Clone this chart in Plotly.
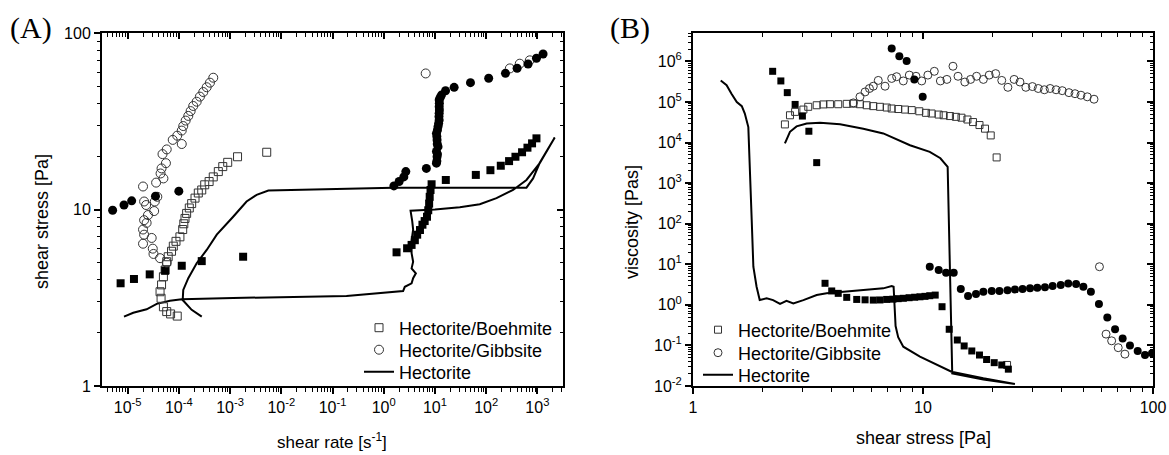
import plotly.graph_objects as go

W, H = 1169, 455

# ---------------- Panel A data: shear stress vs shear rate ----------------
a_boe_up_x = [9.3e-5, 6.9e-5, 5.8e-5, 5.0e-5, 4.5e-5, 4.3e-5, 4.6e-5, 5.0e-5, 5.4e-5, 5.8e-5, 6.2e-5,
              7.2e-5, 7.8e-5, 8.8e-5, 1.05e-4, 1.19e-4, 1.25e-4, 1.32e-4, 1.42e-4, 1.6e-4, 1.78e-4,
              2.07e-4, 2.4e-4, 2.8e-4, 3.2e-4, 3.9e-4, 4.7e-4, 5.9e-4, 7.2e-4, 9.0e-4, 1.4e-3, 5.2e-3]
a_boe_up_y = [2.49, 2.56, 2.64, 2.81, 3.14, 3.42, 3.74, 4.16, 4.54, 5.06, 5.4,
              5.8, 6.2, 6.6, 7.0, 7.7, 8.3, 8.9, 9.5, 10.2, 10.8,
              11.6, 12.4, 12.9, 13.8, 14.4, 15.3, 16.4, 17.5, 18.5, 19.9, 21.1]

a_boe_dn_x = [7.3e-6, 1.33e-5, 2.7e-5, 5.4e-5, 1.14e-4, 2.8e-4, 1.8e-3, 1.78, 2.86, 3.5, 4.05, 4.5,
              5.1, 5.7, 6.3, 7.0, 7.4, 7.7, 7.9, 8.2, 8.6, 16.3, 62.8, 121, 193, 280, 373, 502,
              640, 787, 959]
a_boe_dn_y = [3.82, 4.04, 4.29, 4.5, 4.8, 5.1, 5.4, 5.72, 6.03, 6.3, 6.7, 7.2,
              7.65, 8.2, 8.6, 9.1, 9.9, 10.8, 11.8, 12.9, 13.9, 14.7, 15.7, 16.7, 17.7, 18.8, 19.9, 21.1,
              22.4, 23.7, 25.3]

a_gib_up_x = [5.8e-5, 4.3e-5, 3.2e-5, 3.1e-5, 2.0e-5, 2.95e-5, 2.1e-5, 2.0e-5, 2.35e-5, 2.1e-5, 2.5e-5,
              3.3e-5, 2.3e-5, 2.1e-5, 3.4e-5, 3.8e-5, 2.0e-5, 3.6e-5, 5.0e-5, 4.4e-5, 4.6e-5, 5.6e-5,
              4.8e-5, 5.8e-5, 7.6e-5, 1.14e-4, 9.3e-5, 1.14e-4, 1.22e-4, 1.36e-4, 1.53e-4, 1.70e-4,
              1.91e-4, 2.23e-4, 2.58e-4, 3.0e-4, 3.5e-4, 4.05e-4, 4.7e-4, 6.6, 290, 453, 710]
a_gib_up_y = [5.0, 5.3, 5.6, 6.0, 6.4, 6.9, 7.2, 7.7, 8.4, 8.7, 9.3,
              9.8, 10.6, 11.1, 11.1, 11.8, 13.5, 14.2, 15.0, 16.0, 17.1, 18.3,
              20.6, 21.9, 24.8, 23.5, 26.2, 28.0, 29.7, 31.9, 33.9, 36.1,
              38.6, 40.8, 43.6, 46.3, 49.3, 52.3, 55.8, 59, 63, 67, 70]

a_gib_dn_x = [5.1e-6, 8.5e-6, 1.2e-5, 3.5e-5, 1.0e-4, 1.58, 2.0, 2.47, 2.7, 6.8, 10.7, 10.9, 11.0,
              11.2, 10.7, 11.5, 11.1, 11.0, 10.9, 10.7, 11.2, 11.5, 11.8, 12.1, 12.0, 12.1, 12.2,
              12.1, 12.2, 12.1, 12.6, 13.4, 16.1, 23.7, 49.4, 112, 238, 402, 658, 959, 1291]
a_gib_dn_y = [9.9, 10.6, 11.2, 11.9, 12.7, 13.6, 14.4, 15.3, 16.4, 17.1, 18.3, 18.8, 19.9,
              20.6, 21.3, 22.7, 23.5, 24.8, 25.9, 27.0, 28.2, 29.5, 30.7, 32.1, 33.6, 35.1, 36.6,
              38.2, 40.0, 41.7, 43.0, 44.5, 47.1, 49.2, 52.3, 55.4, 59.1, 63.1, 66.7, 71.9, 76.0]

a_hec_x = [8.5e-6, 1.29e-5, 2.35e-5, 3.7e-5, 6.7e-5, 1.14e-4, 1.15e-3, 0.023, 0.188, 2.39, 2.58,
           3.5, 3.75, 4.24, 3.5, 3.75, 3.5, 3.5, 3.75, 3.6, 3.34, 5.0, 10, 30.6, 75, 159, 335,
           612, 1112, 2183, 1112, 824, 612, 1.53, 0.023, 5.6e-3, 3.3e-3, 2.1e-3, 1.15e-3,
           1.0e-3, 5.5e-4, 3.5e-4, 2.23e-4, 1.53e-4, 1.22e-4, 1.19e-4, 1.78e-4, 2.8e-4]
a_hec_y = [2.47, 2.60, 2.72, 2.92, 3.04, 3.10, 3.15, 3.19, 3.24, 3.45, 3.65,
           3.82, 4.08, 4.35, 4.64, 5.06, 5.65, 6.7, 7.7, 8.6, 9.85, 9.9, 10.0, 10.3, 10.7, 11.6, 12.9,
           14.7, 18.3, 25.6, 18.4, 15.0, 13.3, 13.3, 12.9, 12.8, 12.1, 11.1, 9.1,
           8.7, 7.2, 5.9, 4.96, 4.08, 3.50, 3.07, 2.70, 2.47]

# ---------------- Panel B data: viscosity vs shear stress ----------------
b_boe_up_x = [2.51, 2.64, 2.78, 3.02, 3.17, 3.45, 3.69, 3.94, 4.28, 4.66, 4.98, 5.32, 5.69, 6.08,
              6.5, 6.95, 7.31, 7.81, 8.35, 8.93, 9.64, 10.3, 10.9, 11.7, 12.3, 13.1, 13.9, 14.7,
              15.6, 16.5, 17.6, 18.6, 19.7, 20.9, 23.2]
b_boe_up_y = [2.8e4, 4.7e4, 5.7e4, 6.5e4, 7.6e4, 8.3e4, 8.7e4, 8.8e4, 8.8e4, 9.0e4, 9.1e4, 8.8e4,
              8.3e4, 7.9e4, 7.6e4, 7.3e4, 6.9e4, 6.7e4, 6.5e4, 6.3e4, 5.9e4, 5.4e4, 5.2e4, 4.9e4,
              4.7e4, 4.5e4, 4.3e4, 4.1e4, 3.7e4, 3.2e4, 2.7e4, 2.2e4, 1.5e4, 4.3e3, 0.033]

b_boe_dn_x = [2.22, 2.41, 2.57, 2.78, 2.99, 3.19, 3.45, 3.75, 4.01, 4.28, 4.66, 5.15, 5.6, 6.08,
              6.5, 6.95, 7.4, 7.8, 8.21, 8.7, 9.2, 9.7, 10.2, 10.7, 11.3, 12.1, 13.0, 14.1, 15.1,
              16.3, 17.6, 18.9, 20.4, 22.0, 23.5]
b_boe_dn_y = [5.7e5, 3.3e5, 1.7e5, 8.7e4, 4.5e4, 1.9e4, 3.2e3, 3.4, 2.2, 1.92, 1.53, 1.36, 1.33,
              1.31, 1.32, 1.36, 1.38, 1.42, 1.45, 1.5, 1.54, 1.58, 1.62, 1.68, 1.74, 0.90, 0.25,
              0.136, 0.097, 0.073, 0.058, 0.045, 0.0376, 0.033, 0.026]

b_gib_up_x = [4.98, 5.32, 5.60, 5.85, 6.08, 6.39, 6.84, 7.31, 7.68, 8.21, 8.72, 9.32, 9.87, 10.5,
              11.2, 11.9, 12.7, 13.5, 14.2, 15.2, 16.1, 17.1, 18.3, 19.4, 20.7, 22.0, 23.4, 24.9,
              26.4, 28.0, 29.9, 31.7, 33.7, 35.7, 37.9, 40.3, 43.1, 45.8, 48.6, 51.8, 55.4, 58.5,
              62.5, 66.1, 70.6, 75.5]
b_gib_up_y = [9.5e4, 1.34e5, 1.77e5, 2.15e5, 2.45e5, 3.4e5, 2.45e5, 3.8e5, 4.2e5, 3.3e5, 4.6e5,
              4.3e5, 3.3e5, 4.6e5, 5.7e5, 3.3e5, 3.6e5, 7.6e5, 4.3e5, 3.1e5, 3.6e5, 4.3e5, 3.6e5,
              4.6e5, 5.0e5, 3.4e5, 2.3e5, 3.6e5, 3.1e5, 2.3e5, 2.4e5, 2.15e5, 2.0e5, 2.15e5, 2.0e5,
              1.9e5, 1.7e5, 1.6e5, 1.47e5, 1.34e5, 1.17e5, 8.7, 0.19, 0.13, 0.088, 0.061]

b_gib_dn_x = [7.31, 7.89, 8.49, 9.17, 9.97, 10.7, 11.7, 12.6, 13.6, 14.6, 15.7, 17.0, 18.3, 19.9,
              21.5, 23.3, 25.1, 27.1, 29.2, 31.4, 33.9, 36.6, 39.7, 42.8, 46.3, 49.8, 53.7, 58.2,
              63.3, 68.4, 73.8, 79.4, 85.8, 92.3, 99.0]
b_gib_dn_y = [2.07e6, 1.34e6, 1.03e6, 3.6e5, 1.34e5, 8.7, 7.2, 6.2, 6.2, 2.45, 1.65, 1.85, 2.1,
              2.19, 2.2, 2.3, 2.4, 2.45, 2.55, 2.64, 2.7, 2.9, 3.07, 3.38, 3.25, 2.8, 2.1, 1.05,
              0.49, 0.25, 0.149, 0.10, 0.073, 0.058, 0.064]

b_hec_x = [1.32, 1.40, 1.47, 1.55, 1.63, 1.68, 1.74, 1.76, 1.79, 1.80, 1.83, 1.89, 1.95, 2.09,
           2.23, 2.39, 2.55, 2.73, 3.02, 3.45, 3.81, 4.5, 5.5, 6.29, 6.72, 7.31, 7.45, 7.6, 7.8,
           8.21, 9.7, 13.3, 18.3, 25.1, 18.3, 13.4, 13.2, 13.0, 12.8, 11.9, 10.7, 8.78, 7.19,
           6.72, 5.50, 4.36, 3.57, 3.12, 2.82, 2.64, 2.51]
b_hec_y = [3.4e5, 2.6e5, 1.6e5, 1.0e5, 7.9e4, 5.2e4, 2.4e4, 2.5e3, 261, 123, 8.7, 2.8, 1.31, 1.45,
           1.31, 1.05, 1.26, 1.09, 1.31, 1.74, 1.92, 2.1, 2.3, 2.55, 2.55, 2.9, 2.8, 0.3, 0.16,
           0.093, 0.053, 0.0225, 0.0155, 0.0112, 0.0145, 0.0205, 1.0, 123, 2.5e3, 4.1e3, 5.9e3,
           8.6e3, 1.38e4, 1.68e4, 2.2e4, 2.84e4, 3.06e4, 2.95e4, 2.5e4, 1.84e4, 9.5e3]

# ---------------- tick labels ----------------
a_x_tickvals = [1e-5, 1e-4, 1e-3, 1e-2, 1e-1, 1, 10, 100, 1000]
a_x_ticktext = ["10<sup>-5</sup>", "10<sup>-4</sup>", "10<sup>-3</sup>", "10<sup>-2</sup>",
                "10<sup>-1</sup>", "10<sup>0</sup>", "10<sup>1</sup>", "10<sup>2</sup>", "10<sup>3</sup>"]
a_y_tickvals = [1, 10, 100]
a_y_ticktext = ["1", "10", "100"]
b_x_tickvals = [1, 10, 100]
b_x_ticktext = ["1", "10", "100"]
b_y_tickvals = [1e-2, 1e-1, 1, 10, 100, 1e3, 1e4, 1e5, 1e6]
b_y_ticktext = ["10<sup>-2</sup>", "10<sup>-1</sup>", "10<sup>0</sup>", "10<sup>1</sup>",
                "10<sup>2</sup>", "10<sup>3</sup>", "10<sup>4</sup>", "10<sup>5</sup>", "10<sup>6</sup>"]

legend_labels = ["Hectorite/Boehmite", "Hectorite/Gibbsite", "Hectorite"]

FONT = "Liberation Sans, Arial, sans-serif"
OPEN = "#333333"


def minor_vals(lo, hi):
    return [m * 10.0 ** e for e in range(lo, hi) for m in range(2, 10)]


fig = go.Figure()


def add_panel(xa, ya, lgs, hx, hy, bux, buy, bdx, bdy, gux, guy, gdx, gdy, msz):
    fig.add_trace(go.Scatter(x=hx, y=hy, mode="lines", name=legend_labels[2],
                             line=dict(color="black", width=2), xaxis=xa, yaxis=ya,
                             legend=lgs[2]))
    fig.add_trace(go.Scatter(x=bux, y=buy, mode="markers", name=legend_labels[0],
                             marker=dict(symbol="square-open", size=msz, color=OPEN,
                                         line=dict(width=1, color=OPEN)),
                             xaxis=xa, yaxis=ya, legend=lgs[0]))
    fig.add_trace(go.Scatter(x=bdx, y=bdy, mode="markers", name=legend_labels[0] + " (down)",
                             marker=dict(symbol="square", size=msz, color="black"),
                             xaxis=xa, yaxis=ya, showlegend=False))
    fig.add_trace(go.Scatter(x=gux, y=guy, mode="markers", name=legend_labels[1],
                             marker=dict(symbol="circle-open", size=msz + 1, color=OPEN,
                                         line=dict(width=1, color=OPEN)),
                             xaxis=xa, yaxis=ya, legend=lgs[1]))
    fig.add_trace(go.Scatter(x=gdx, y=gdy, mode="markers", name=legend_labels[1] + " (down)",
                             marker=dict(symbol="circle", size=msz + 1, color="black"),
                             xaxis=xa, yaxis=ya, showlegend=False))


add_panel("x", "y", ["legend", "legend2", "legend3"], a_hec_x, a_hec_y, a_boe_up_x, a_boe_up_y,
          a_boe_dn_x, a_boe_dn_y, a_gib_up_x, a_gib_up_y, a_gib_dn_x, a_gib_dn_y, 8)
add_panel("x2", "y2", ["legend4", "legend5", "legend6"], b_hec_x, b_hec_y, b_boe_up_x, b_boe_up_y,
          b_boe_dn_x, b_boe_dn_y, b_gib_up_x, b_gib_up_y, b_gib_dn_x, b_gib_dn_y, 7)

# empty traces so that the mirrored (inward-tick) frame axes are drawn
fig.add_trace(go.Scatter(x=[], y=[], xaxis="x3", yaxis="y3", showlegend=False, hoverinfo="skip"))
fig.add_trace(go.Scatter(x=[], y=[], xaxis="x4", yaxis="y4", showlegend=False, hoverinfo="skip"))

dAx = [102 / W, 563 / W]
dBx = [693 / W, 1153 / W]
dy = [1 - 386 / H, 1 - 33 / H]


def axis(domain, rng, tv, tt, anchor, minors, ticks="outside", side=None, overlaying=None,
         labels=True):
    d = dict(type="log", domain=domain, range=rng, anchor=anchor,
             tickmode="array", tickvals=tv, ticktext=tt, showticklabels=labels,
             ticks=ticks, ticklen=6, tickwidth=1.6, tickcolor="black",
             showline=True, linecolor="black", linewidth=2, mirror=False,
             showgrid=False, zeroline=False,
             minor=dict(ticks=ticks, ticklen=3.5, tickwidth=1.2, tickcolor="black",
                        tickmode="array", tickvals=minors, showgrid=False),
             tickfont=dict(family=FONT, size=16, color="black"), fixedrange=True)
    if side:
        d["side"] = side
    if overlaying:
        d["overlaying"] = overlaying
    return d


mAx = minor_vals(-6, 4)
mAy = minor_vals(0, 2)
mBx = minor_vals(0, 2)
mBy = minor_vals(-2, 7)

leg_font = dict(family=FONT, size=18, color="black")


def leg(xpx, ypx):
    return dict(x=xpx / W, y=1 - ypx / H, xanchor="left", yanchor="middle",
                bgcolor="rgba(0,0,0,0)", borderwidth=0, font=leg_font)


fig.update_layout(
    width=W, height=H,
    margin=dict(l=0, r=0, t=0, b=0, pad=0, autoexpand=False),
    paper_bgcolor="white", plot_bgcolor="white",
    font=dict(family=FONT, color="black"),
    xaxis=axis(dAx, [-5.5, 3.5], a_x_tickvals, a_x_ticktext, "y", mAx),
    yaxis=axis(dy, [0, 2], a_y_tickvals, a_y_ticktext, "x", mAy),
    xaxis3=axis(dAx, [-5.5, 3.5], a_x_tickvals, a_x_ticktext, "y", mAx, ticks="inside",
                side="top", overlaying="x", labels=False),
    yaxis3=axis(dy, [0, 2], a_y_tickvals, a_y_ticktext, "x", mAy, ticks="inside",
                side="right", overlaying="y", labels=False),
    xaxis2=axis(dBx, [0, 2], b_x_tickvals, b_x_ticktext, "y2", mBx),
    yaxis2=axis(dy, [-2, 6.7], b_y_tickvals, b_y_ticktext, "x2", mBy),
    xaxis4=axis(dBx, [0, 2], b_x_tickvals, b_x_ticktext, "y2", mBx, ticks="inside",
                side="top", overlaying="x2", labels=False),
    yaxis4=axis(dy, [-2, 6.7], b_y_tickvals, b_y_ticktext, "x2", mBy, ticks="inside",
                side="right", overlaying="y2", labels=False),
    legend=leg(359, 328),
    legend2=leg(359, 350),
    legend3=leg(359, 372),
    legend4=leg(698, 330),
    legend5=leg(698, 353),
    legend6=leg(698, 375),
    showlegend=True,
)

ann = [
    dict(text="(A)", x=31 / W, y=1 - 28 / H, font=dict(family="Liberation Serif", size=30)),
    dict(text="(B)", x=630 / W, y=1 - 28 / H, font=dict(family="Liberation Serif", size=30)),
    dict(text="shear stress [Pa]", x=42 / W, y=1 - 222 / H, textangle=-90,
         font=dict(family=FONT, size=18)),
    dict(text="shear rate [s<sup>-1</sup>]", x=332 / W, y=1 - 441 / H, font=dict(family=FONT, size=17)),
    dict(text="viscosity [Pas]", x=632 / W, y=1 - 222 / H, textangle=-90,
         font=dict(family=FONT, size=18)),
    dict(text="shear stress [Pa]", x=923 / W, y=1 - 438 / H, font=dict(family=FONT, size=18)),
]
for a in ann:
    a.update(xref="paper", yref="paper", showarrow=False, xanchor="center", yanchor="middle")
    a["font"]["color"] = "black"
fig.update_layout(annotations=ann)

fig.write_html("out.html")
